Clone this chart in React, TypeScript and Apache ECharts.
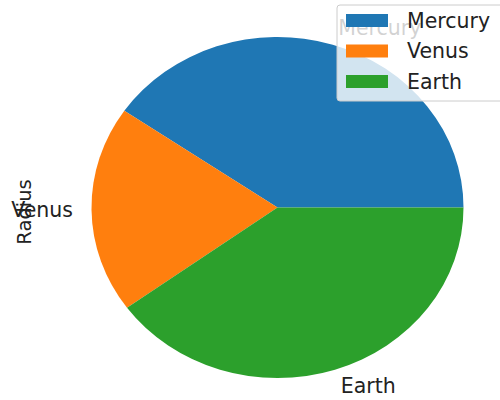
import React, { useEffect, useRef } from "react";
import * as echarts from "echarts";

const categories = ["Mercury", "Venus", "Earth"];
const radiusValues = [40.4, 19.6, 40.0];
const colors = ["#1f77b4", "#ff7f0e", "#2ca02c"];
const yAxisLabel = "Radius";

const FONT = "DejaVu Sans";
const CX = 277.5;
const CY = 207.5;
const RX = 186;
const RY = 170.5;
const LABEL_DIST = 1.1;

export default function App() {
  const ref = useRef<HTMLDivElement>(null);
  useEffect(() => {
    if (!ref.current) return;
    const chart = echarts.init(ref.current, undefined, { renderer: "svg" });
    const total = radiusValues.reduce((a, b) => a + b, 0);
    const option: any = {
      animation: false,
      backgroundColor: "#ffffff",
      legend: {
        orient: "vertical",
        left: 337,
        top: 5,
        padding: [5, 15, 9, 9],
        itemGap: 9.5,
        itemWidth: 42,
        itemHeight: 13,
        icon: "rect",
        backgroundColor: "rgba(255,255,255,0.8)",
        borderColor: "#cccccc",
        borderWidth: 1,
        borderRadius: 3,
        data: categories,
        textStyle: {
          fontFamily: FONT,
          fontSize: 20.5,
          color: "#222222",
          padding: [0, 0, 0, 14],
        },
        selectedMode: false,
        z: 10,
      },
      graphic: [
        {
          type: "text",
          x: 24,
          y: 212,
          rotation: Math.PI / 2,
          style: {
            text: yAxisLabel,
            fontFamily: FONT,
            fontSize: 19.5,
            fill: "#222222",
            align: "center",
            verticalAlign: "middle",
          },
        },
      ],
      series: categories.map((name, i) => ({
        type: "custom",
        name,
        coordinateSystem: "none",
        data: [radiusValues[i]],
        itemStyle: { color: colors[i] },
        z: 2,
        renderItem: (params: any, api: any) => {
          let before = 0;
          for (let k = 0; k < i; k++) before += radiusValues[k];
          const v = api.value(0);
          const a0 = (before / total) * Math.PI * 2;
          const a1 = ((before + v) / total) * Math.PI * 2;
          const mid = (a0 + a1) / 2;
          const lx = CX + LABEL_DIST * RX * Math.cos(mid);
          const ly = CY - LABEL_DIST * RY * Math.sin(mid);
          return {
            type: "group",
            children: [
              {
                type: "group",
                x: CX,
                y: CY,
                scaleY: RY / RX,
                children: [
                  {
                    type: "sector",
                    shape: {
                      cx: 0,
                      cy: 0,
                      r0: 0,
                      r: RX,
                      startAngle: -a1,
                      endAngle: -a0,
                      clockwise: true,
                    },
                    style: { fill: colors[i] },
                  },
                ],
              },
              {
                type: "text",
                x: lx,
                y: ly,
                style: {
                  text: name,
                  fontFamily: FONT,
                  fontSize: 20.5,
                  fill: "#222222",
                  align: Math.cos(mid) > 0 ? "left" : "right",
                  verticalAlign: "middle",
                },
              },
            ],
          };
        },
      })),
    };
    chart.setOption(option);
    return () => chart.dispose();
  }, []);
  return (
    <div
      ref={ref}
      style={{ position: "fixed", left: 0, top: 0, width: 500, height: 400 }}
    />
  );
}
